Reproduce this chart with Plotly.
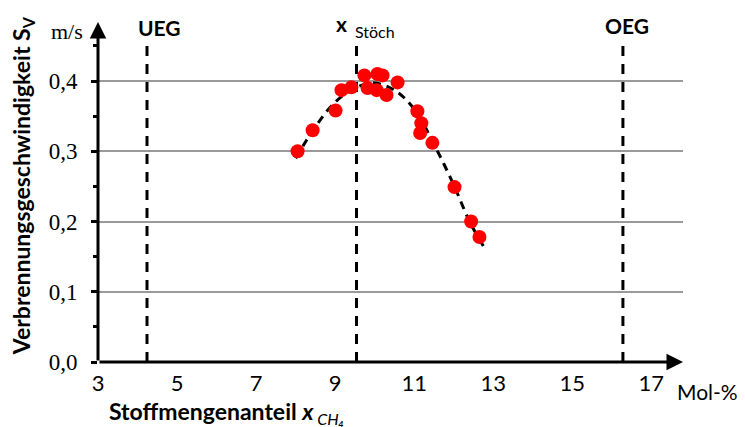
import numpy as np
import plotly.graph_objects as go

# Messpunkte (Mol-% CH4, m/s)
x_mess = [8.05, 8.43, 9.01, 9.16, 9.41, 9.74, 10.07, 10.2, 9.82, 10.05, 10.3, 10.58,
          11.08, 11.18, 11.15, 11.46, 12.02, 12.44, 12.65]
s_mess = [0.300, 0.330, 0.358, 0.387, 0.391, 0.408, 0.410, 0.408, 0.390, 0.387, 0.380, 0.398,
          0.357, 0.340, 0.326, 0.312, 0.249, 0.200, 0.178]

# Ausgleichskurve
x_fit = [8.0, 8.5, 9.0, 9.5, 10.0, 10.5, 11.0, 11.5, 12.0, 12.4, 12.75]
s_fit = [0.29, 0.335, 0.37, 0.39, 0.397, 0.387, 0.36, 0.31, 0.252, 0.2, 0.165]

# Grenzen
grenzen = {"UEG": 4.24, "Stöch": 9.54, "OEG": 16.28}

x_ticks = [3, 5, 7, 9, 11, 13, 15, 17]
y_ticks = [0.0, 0.1, 0.2, 0.3, 0.4]

X_MAX, Y_MAX = 17.8, 0.484

fig = go.Figure()

for name, xv in grenzen.items():
    fig.add_trace(go.Scatter(x=[xv, xv], y=[0, 0.451], mode="lines",
                             line=dict(color="black", width=3, dash="10px,8px"),
                             hoverinfo="skip"))

fig.add_trace(go.Scatter(x=x_fit, y=s_fit, mode="lines", line_shape="spline",
                         line=dict(color="black", width=3, dash="8px,6px")))
fig.add_trace(go.Scatter(x=x_mess, y=s_mess, mode="markers",
                         marker=dict(color="#ff0000", size=14)))

# Teilstriche der x-Achse (unterhalb der Achse, nicht abgeschnitten)
x_striche = np.arange(3, 17.5, 0.5)
fig.add_trace(go.Scatter(x=x_striche, y=np.full(len(x_striche), -0.0058), mode="markers",
                         cliponaxis=False, hoverinfo="skip",
                         marker=dict(symbol="line-ns", size=6, color="black",
                                     line=dict(color="black", width=3))))

# Achsen mit Pfeilen
fig.add_annotation(x=X_MAX, y=0, ax=3, ay=0, xref="x", yref="y", axref="x", ayref="y",
                   text="", showarrow=True, arrowhead=2, arrowsize=1.1, arrowwidth=3,
                   arrowcolor="black")
fig.add_annotation(x=3, y=Y_MAX, ax=3, ay=0, xref="x", yref="y", axref="x", ayref="y",
                   text="", showarrow=True, arrowhead=2, arrowsize=1.1, arrowwidth=3,
                   arrowcolor="black")

bold = dict(family="Lato", size=21, color="black")
fig.add_annotation(x=4.55, y=0.4765, text="<b>UEG</b>", showarrow=False, font=bold,
                   xanchor="center", yanchor="middle")
fig.add_annotation(x=16.38, y=0.479, text="<b>OEG</b>", showarrow=False, font=bold,
                   xanchor="center", yanchor="middle")
fig.add_annotation(x=9.16, y=0.482, text="<b>x</b>", showarrow=False, font=bold,
                   xanchor="center", yanchor="middle")
fig.add_annotation(x=10.0, y=0.47, text="Stöch", showarrow=False,
                   xanchor="center", yanchor="middle",
                   font=dict(family="Lato", size=16, color="black"))
fig.add_annotation(x=-0.053, y=0.972, xref="paper", yref="paper", text="m/s",
                   xanchor="center", yanchor="middle", showarrow=False,
                   font=dict(family="Liberation Serif", size=22, color="black"))
fig.add_annotation(x=0.986, y=-0.088, xref="paper", yref="paper", xanchor="left",
                   yanchor="middle", text="Mol-%", showarrow=False,
                   font=dict(family="Lato", size=21, color="black"))
fig.add_annotation(x=-0.13, y=0.52, xref="paper", yref="paper", textangle=-90,
                   xanchor="center", yanchor="middle",
                   text="<b>Verbrennungsgeschwindigkeit S<sub>V</sub></b>", showarrow=False,
                   font=dict(family="Lato", size=23, color="black"))
fig.add_annotation(x=0.015, y=-0.15, xref="paper", yref="paper", xanchor="left",
                   yanchor="middle",
                   text="<b>Stoffmengenanteil <i>x</i></b><sub><i> CH₄</i></sub>",
                   showarrow=False, font=dict(family="Lato", size=23, color="black"))

fig.update_layout(
    width=745, height=427,
    margin=dict(l=90, r=70, t=14, b=73),
    paper_bgcolor="white", plot_bgcolor="white",
    showlegend=False,
    separators=",.",
    xaxis=dict(range=[3, X_MAX], tickvals=x_ticks, showgrid=False, zeroline=False,
               showline=False, automargin=False, ticks="", ticklabelstandoff=6,
               tickfont=dict(family="Lato", size=22, color="black")),
    yaxis=dict(range=[0, Y_MAX], tickvals=y_ticks, tickformat=".1f", showgrid=True,
               gridcolor="#9a9a9a", gridwidth=1.5, zeroline=False, showline=False,
               automargin=False,
               ticks="outside", ticklen=6, tickwidth=3, tickcolor="black",
               ticklabelstandoff=9,
               minor=dict(dtick=0.05, tick0=0, ticks="outside", ticklen=4, tickwidth=3,
                          tickcolor="black", showgrid=False),
               tickfont=dict(family="Liberation Serif", size=23, color="black")),
)

fig.write_html("out.html")
